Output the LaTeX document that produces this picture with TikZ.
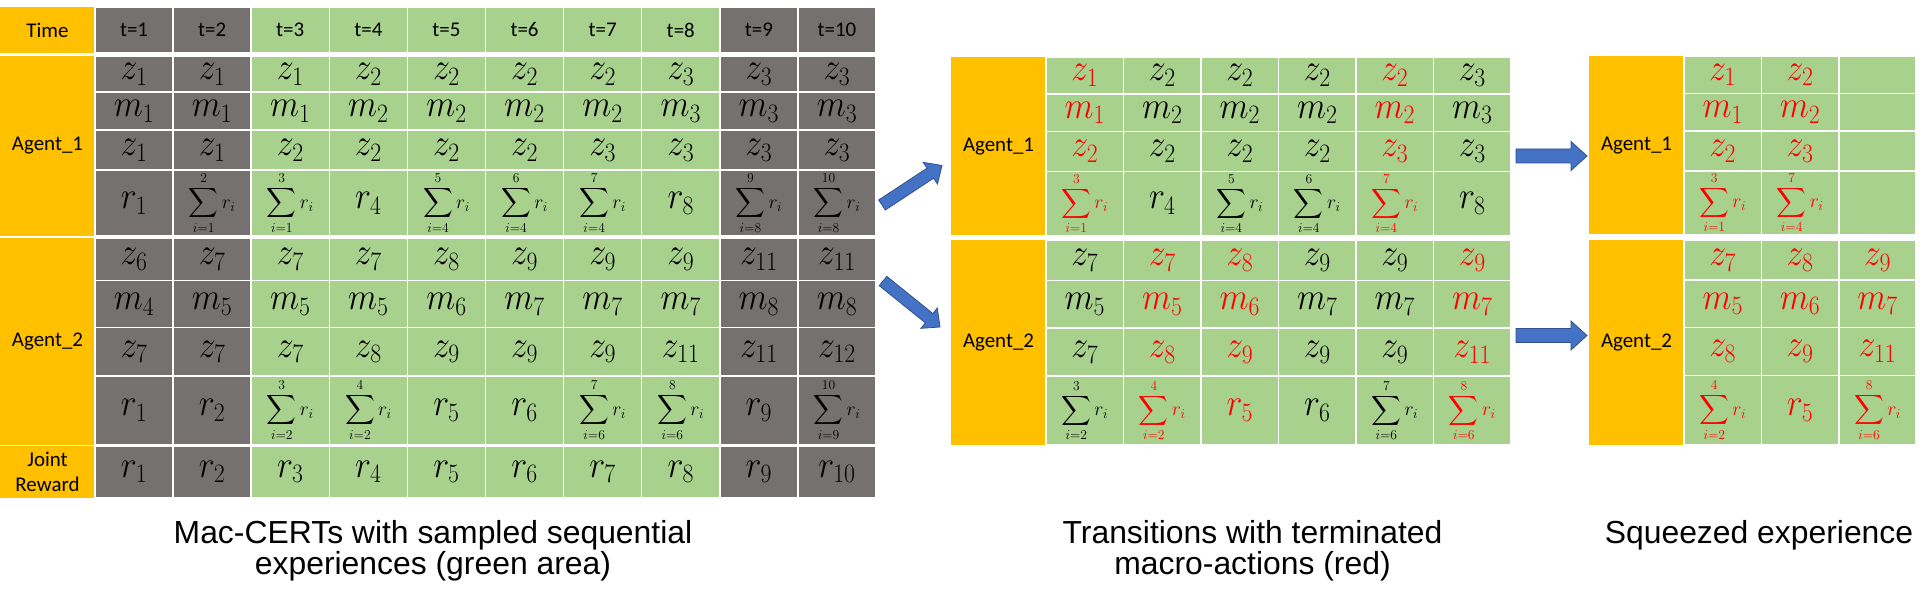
\RequirePackage{fix-cm}
\documentclass[tikz,border=0pt]{standalone}
\usepackage{exscale}
\usepackage{graphicx}
\usepackage{fontspec}
\newfontfamily\calib{Carlito}
\newfontfamily\arialf{Liberation Sans}
\usetikzlibrary{calc}
\definecolor{goldc}{HTML}{FFC000}
\definecolor{greenc}{HTML}{A9D18E}
\definecolor{grayc}{HTML}{767171}
\definecolor{redc}{HTML}{FF0000}
\definecolor{bluec}{HTML}{4472C4}
\definecolor{blued}{HTML}{2F528F}
\newcommand\mv[1]{\scalebox{1}[1.12]{\fontsize{34}{36}\selectfont$#1$}}
\newcommand\sr[2]{{\fontsize{19.5}{24}\selectfont$\displaystyle\sum_{i=#1}^{#2}r_i$}}
\newcommand\rd[1]{{\color{redc}#1}}
\newcommand\leftrow[4]{%
  \foreach \t [count=\c] in {#4} {%
    \pgfmathsetmacro\xa{95+(\c-0.5)*78.1}%
    \pgfmathtruncatemacro\isg{(\c<3)||(\c>8)}%
    \ifnum\isg=1 \def\fc{grayc}\else\def\fc{greenc}\fi
    \node[tcell, fill=\fc, minimum width=78.1bp, minimum height={(#3-#2)*1bp}] (L#1-\c) at (\xa,{(#2+#3)/2}) {\t};
  }}
\newcommand\grnrow[6]{%
  \foreach \t [count=\c] in {#6} {%
    \pgfmathsetmacro\xa{#2+(\c-0.5)*#3}%
    \node[tcell, fill=greenc, minimum width=#3bp, minimum height={(#5-#4)*1bp}] (#1-\c) at (\xa,{(#4+#5)/2}) {\t};
  }}
\newcommand\labcell[6]{%
  \node[labcellstyle, minimum width={(#3-#2)*1bp}, minimum height={(#5-#4)*1bp}] (#1) at ({(#2+#3)/2},{(#4+#5)/2}) {#6};}
% block arrow from (#1) to (#2): #3 half shaft, #4 half head, #5 head length
\newcommand\blockarrow[5]{%
  \coordinate (#1hb) at ($(#2)!#5!(#1)$);
  \draw[blockarr] ($(#1)!#3!90:(#2)$) -- ($(#1hb)!#3!-90:(#1)$) -- ($(#1hb)!#4!-90:(#1)$)
    -- (#2) -- ($(#1hb)!#4!90:(#1)$) -- ($(#1hb)!#3!90:(#1)$) -- ($(#1)!#3!-90:(#2)$) -- cycle;}
\begin{document}
\begin{tikzpicture}[x=1bp,y=-1bp,
  tcell/.style={draw=white, line width=1.5bp, inner sep=0pt, outer sep=0pt, text=black, font=\calib\fontsize{21}{24}\selectfont},
  labcellstyle/.style={fill=goldc, inner sep=0pt, outer sep=0pt, text=black, font=\calib\fontsize{21}{25.5}\selectfont, align=center},
  blockarr/.style={fill=bluec, draw=blued, line width=0.8bp, line join=miter},
  captxt/.style={font=\arialf\fontsize{32}{31}\selectfont, align=center, inner sep=0pt, anchor=north}]
\fill[white] (0,0) rectangle (1920,599);
\useasboundingbox (0,0) rectangle (1920,599);
% ---------- left table ----------
\labcell{Ltime}{0}{95}{7.3}{52.7}{Time}
\labcell{LA1}{0}{95}{56}{236}{Agent\_1}
\labcell{LA2}{0}{95}{237.8}{444.5}{Agent\_2}
\labcell{LJ}{0}{95}{446}{497.5}{Joint\\Reward}
\leftrow{H}{7.3}{52.7}{t=1,t=2,t=3,t=4,t=5,t=6,t=7,t=8,t=9,t=10}
\leftrow{a}{56}{92.2}{\mv{z_1},\mv{z_1},\mv{z_1},\mv{z_2},\mv{z_2},\mv{z_2},\mv{z_2},\mv{z_3},\mv{z_3},\mv{z_3}}
\leftrow{b}{92.2}{130}{\mv{m_1},\mv{m_1},\mv{m_1},\mv{m_2},\mv{m_2},\mv{m_2},\mv{m_2},\mv{m_3},\mv{m_3},\mv{m_3}}
\leftrow{c}{130}{170}{\mv{z_1},\mv{z_1},\mv{z_2},\mv{z_2},\mv{z_2},\mv{z_2},\mv{z_3},\mv{z_3},\mv{z_3},\mv{z_3}}
\leftrow{d}{170}{236}{\mv{r_1},\sr{1}{2},\sr{1}{3},\mv{r_4},\sr{4}{5},\sr{4}{6},\sr{4}{7},\mv{r_8},\sr{8}{9},\sr{8}{10}}
\leftrow{e}{237.8}{280.5}{\mv{z_6},\mv{z_7},\mv{z_7},\mv{z_7},\mv{z_8},\mv{z_9},\mv{z_9},\mv{z_9},\mv{z_{11}},\mv{z_{11}}}
\leftrow{f}{280.5}{327.7}{\mv{m_4},\mv{m_5},\mv{m_5},\mv{m_5},\mv{m_6},\mv{m_7},\mv{m_7},\mv{m_7},\mv{m_8},\mv{m_8}}
\leftrow{g}{327.7}{375.8}{\mv{z_7},\mv{z_7},\mv{z_7},\mv{z_8},\mv{z_9},\mv{z_9},\mv{z_9},\mv{z_{11}},\mv{z_{11}},\mv{z_{12}}}
\leftrow{h}{375.8}{444.5}{\mv{r_1},\mv{r_2},\sr{2}{3},\sr{2}{4},\mv{r_5},\mv{r_6},\sr{6}{7},\sr{6}{8},\mv{r_9},\sr{9}{10}}
\leftrow{j}{446}{497.5}{\mv{r_1},\mv{r_2},\mv{r_3},\mv{r_4},\mv{r_5},\mv{r_6},\mv{r_7},\mv{r_8},\mv{r_9},\mv{r_{10}}}
% ---------- middle table ----------
\labcell{MA1}{951}{1046}{57}{235.5}{Agent\_1}
\labcell{MA2}{951}{1046}{240.5}{445}{Agent\_2}
\grnrow{Ma}{1046}{77.5}{57}{94}{\rd{\mv{z_1}},\mv{z_2},\mv{z_2},\mv{z_2},\rd{\mv{z_2}},\mv{z_3}}
\grnrow{Mb}{1046}{77.5}{94}{131.5}{\rd{\mv{m_1}},\mv{m_2},\mv{m_2},\mv{m_2},\rd{\mv{m_2}},\mv{m_3}}
\grnrow{Mc}{1046}{77.5}{131.5}{171.5}{\rd{\mv{z_2}},\mv{z_2},\mv{z_2},\mv{z_2},\rd{\mv{z_3}},\mv{z_3}}
\grnrow{Md}{1046}{77.5}{171.5}{235.5}{\rd{\sr{1}{3}},\mv{r_4},\sr{4}{5},\sr{4}{6},\rd{\sr{4}{7}},\mv{r_8}}
\grnrow{Me}{1046}{77.5}{240.5}{280.5}{\mv{z_7},\rd{\mv{z_7}},\rd{\mv{z_8}},\mv{z_9},\mv{z_9},\rd{\mv{z_9}}}
\grnrow{Mf}{1046}{77.5}{280.5}{328}{\mv{m_5},\rd{\mv{m_5}},\rd{\mv{m_6}},\mv{m_7},\mv{m_7},\rd{\mv{m_7}}}
\grnrow{Mg}{1046}{77.5}{328}{376}{\mv{z_7},\rd{\mv{z_8}},\rd{\mv{z_9}},\mv{z_9},\mv{z_9},\rd{\mv{z_{11}}}}
\grnrow{Mh}{1046}{77.5}{376}{445}{\sr{2}{3},\rd{\sr{2}{4}},\rd{\mv{r_5}},\mv{r_6},\sr{6}{7},\rd{\sr{6}{8}}}
% ---------- right table ----------
\labcell{RA1}{1589}{1684}{56}{234.5}{Agent\_1}
\labcell{RA2}{1589}{1684}{240}{444.5}{Agent\_2}
\grnrow{Ra}{1684}{77.4}{56}{93.5}{\rd{\mv{z_1}},\rd{\mv{z_2}},{}}
\grnrow{Rb}{1684}{77.4}{93.5}{131}{\rd{\mv{m_1}},\rd{\mv{m_2}},{}}
\grnrow{Rc}{1684}{77.4}{131}{171}{\rd{\mv{z_2}},\rd{\mv{z_3}},{}}
\grnrow{Rd}{1684}{77.4}{171}{234.5}{\rd{\sr{1}{3}},\rd{\sr{4}{7}},{}}
\grnrow{Re}{1684}{77.4}{240}{280}{\rd{\mv{z_7}},\rd{\mv{z_8}},\rd{\mv{z_9}}}
\grnrow{Rf}{1684}{77.4}{280}{327.7}{\rd{\mv{m_5}},\rd{\mv{m_6}},\rd{\mv{m_7}}}
\grnrow{Rg}{1684}{77.4}{327.7}{375.5}{\rd{\mv{z_8}},\rd{\mv{z_9}},\rd{\mv{z_{11}}}}
\grnrow{Rh}{1684}{77.4}{375.5}{444.5}{\rd{\sr{2}{4}},\rd{\mv{r_5}},\rd{\sr{6}{8}}}
% ---------- arrows ----------
\coordinate (a1s) at (882,205);
\coordinate (a1e) at (942,165.5);
\coordinate (a2s) at (883,281);
\coordinate (a2e) at (940,327);
\coordinate (a3s) at (1516,156);
\coordinate (a3e) at (1587,156);
\coordinate (a4s) at (1516,335.5);
\coordinate (a4e) at (1587,335.5);
\blockarrow{a1s}{a1e}{6bp}{13bp}{14bp}
\blockarrow{a2s}{a2e}{6bp}{13bp}{14bp}
\blockarrow{a3s}{a3e}{7bp}{14.5bp}{16bp}
\blockarrow{a4s}{a4e}{7bp}{14.5bp}{16bp}
% ---------- captions ----------
\node[captxt] (cap1) at (433,520.5) {Mac-CERTs with sampled sequential\\experiences (green area)};
\node[captxt] (cap2) at (1252.5,520.5) {Transitions with terminated\\macro-actions (red)};
\node[captxt] (cap3) at (1759,520.5) {Squeezed experience};
\end{tikzpicture}
\end{document}
